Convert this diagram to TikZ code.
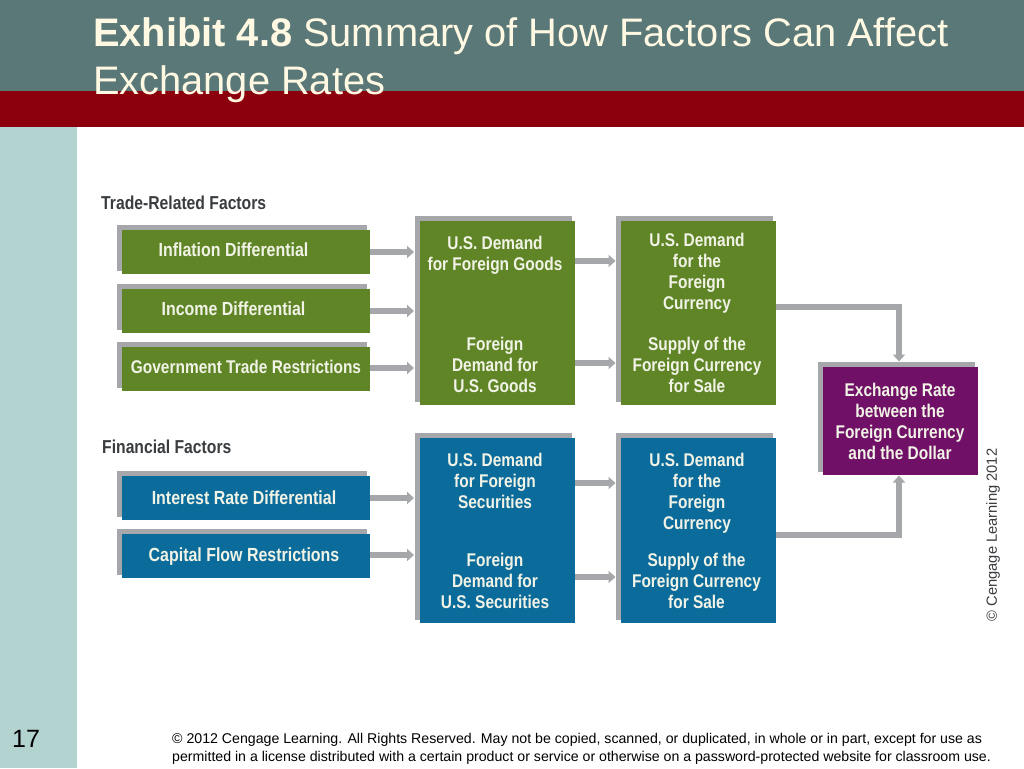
\documentclass[tikz,border=0pt]{standalone}
\usepackage{fontspec}
\setmainfont{Liberation Sans}
\newfontfamily\dgfont[FakeStretch=0.84]{Liberation Sans}
\usetikzlibrary{arrows.meta}
\definecolor{hdr}{HTML}{5A7878}
\definecolor{redbar}{HTML}{8B000C}
\definecolor{pane}{HTML}{B2D3CF}
\definecolor{cream}{HTML}{FFF9E3}
\definecolor{grn}{HTML}{5F8526}
\definecolor{blu}{HTML}{0B6B9A}
\definecolor{pur}{HTML}{701066}
\definecolor{greybar}{HTML}{A5A7AA}
\definecolor{lbl}{HTML}{F1F3E6}
\definecolor{hd}{HTML}{3A3D40}
\tikzset{
  x=1pt,y=-1pt,
  label text/.style={font=\dgfont\bfseries\fontsize{18.4}{21}\selectfont,text=lbl,align=center,inner sep=0pt},
  wide label/.style={label text,font=\dgfont\bfseries\fontsize{19}{21}\selectfont},
  head text/.style={font=\dgfont\bfseries\fontsize{18.7}{20}\selectfont,text=hd,anchor=west,inner sep=0pt},
  flow/.style={draw=greybar,line width=5.5pt,-{Triangle[length=7pt,width=12pt]}},
  title text/.style={font=\fontsize{39.8}{47}\selectfont,text=cream,anchor=base west,inner sep=0pt}
}
% name, x1, y1, x2, y2, colour: a grey offset plate, then the panel node on top
\newcommand{\panel}[6]{%
  \fill[greybar] (#2-5,#3-5.5) rectangle (#4-3.5,#5-3);
  \node[fill=#6,inner sep=0pt,outer sep=0pt,minimum width={(#4)-(#2)},minimum height={(#5)-(#3)}] (#1) at ({(#2+#4)/2},{(#3+#5)/2}) {};
}
\begin{document}
\begin{tikzpicture}
\useasboundingbox (0,0) rectangle (1024,768);
\fill[white] (0,0) rectangle (1024,768);
\fill[hdr] (0,0) rectangle (1024,91);
\fill[redbar] (0,91) rectangle (1024,127);
\fill[pane] (0,127) rectangle (77,768);
\node[title text] (t1) at (93,47) {\textbf{Exhibit 4.8} Summary of How Factors Can Affect};
\node[title text] (t2) at (93,94) {Exchange Rates};
\node[font=\fontsize{25}{25}\selectfont,anchor=base west,inner sep=0pt] (num) at (12,747) {17};
\node[font=\fontsize{14.15}{18}\selectfont,anchor=north west,align=left,inner sep=0pt] (foot) at (172,733.5)
 {© 2012 Cengage Learning. All Rights Reserved. May not be copied, scanned, or duplicated, in whole or in part, except for use as\\
  permitted in a license distributed with a certain product or service or otherwise on a password-protected website for classroom use.};
\node[head text] (h1) at (101,203) {Trade-Related Factors};
\node[head text] (h2) at (102,447) {Financial Factors};
% panels
\panel{a}{122}{230}{370}{274}{grn}
\panel{b}{122}{289}{370}{333}{grn}
\panel{c}{122}{347}{370}{391}{grn}
\panel{d}{420}{221}{575}{405}{grn}
\panel{e}{620.5}{221}{776}{405}{grn}
\panel{f}{823}{367}{978}{475}{pur}
\panel{g}{122}{476}{370}{520}{blu}
\panel{h}{122}{534}{370}{578}{blu}
\panel{i}{420}{438}{575}{623}{blu}
\panel{j}{620.5}{438}{776}{623}{blu}
% labels
\node[wide label] (la) at (233.5,250) {Inflation Differential};
\node[wide label] (lb) at (233.5,309) {Income Differential};
\node[label text] (lc) at (246,367) {Government Trade Restrictions};
\node[label text] (d1) at (495,255.5) {U.S. Demand\\for Foreign Goods};
\node[label text] (d2) at (495,365) {Foreign\\Demand for\\U.S. Goods};
\node[label text] (e1) at (697,273.5) {U.S. Demand\\for the\\Foreign\\Currency};
\node[label text] (e2) at (697,365) {Supply of the\\Foreign Currency\\for Sale};
\node[label text] (lf) at (900,421.5) {Exchange Rate\\between the\\Foreign Currency\\and the Dollar};
\node[wide label] (lg) at (244,498) {Interest Rate Differential};
\node[wide label] (lh) at (244,557) {Capital Flow Restrictions};
\node[label text] (i1) at (495,481) {U.S. Demand\\for Foreign\\Securities};
\node[label text] (i2) at (495,581) {Foreign\\Demand for\\U.S. Securities};
\node[label text] (j1) at (697,493.5) {U.S. Demand\\for the\\Foreign\\Currency};
\node[label text] (j2) at (696.5,581) {Supply of the\\Foreign Currency\\for Sale};
\node[rotate=90,font=\fontsize{14.7}{14.7}\selectfont,text=hd,inner sep=0pt] (cr) at (993,535) {© Cengage Learning 2012};
% connectors
\draw[flow] (a.east |- 0,252) -- (414,252);
\draw[flow] (b.east |- 0,311) -- (414,311);
\draw[flow] (c.east |- 0,368) -- (414,368);
\draw[flow] (g.east |- 0,498) -- (414,498);
\draw[flow] (h.east |- 0,555) -- (414,555);
\draw[flow] (d.east |- 0,261) -- (615.5,261);
\draw[flow] (d.east |- 0,363) -- (615.5,363);
\draw[flow] (i.east |- 0,483) -- (615.5,483);
\draw[flow] (i.east |- 0,577) -- (615.5,577);
\coordinate (ftop) at (899,361.5);
\coordinate (fbot) at (899,475.5);
\draw[flow] (e.east |- 0,307) -| (ftop);
\draw[flow] (j.east |- 0,535) -| (fbot);
\end{tikzpicture}
\end{document}
